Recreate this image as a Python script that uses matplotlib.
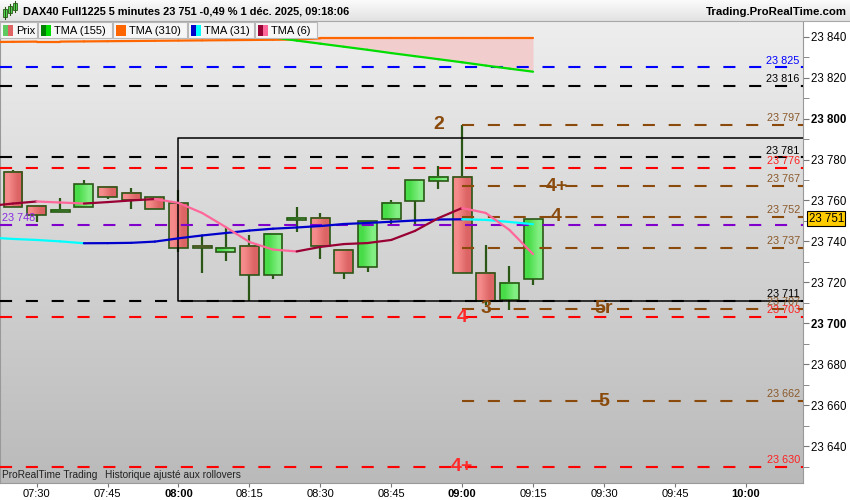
import numpy as np
import matplotlib.pyplot as plt
import matplotlib.transforms as mtransforms
from matplotlib.patches import Rectangle
from matplotlib.colors import LinearSegmentedColormap
from matplotlib.collections import LineCollection

plt.rcParams['font.family'] = ['Liberation Sans', 'DejaVu Sans']

W, H = 850, 500

# bougies 5 minutes
times = ["07:25", "07:30", "07:35", "07:40", "07:45", "07:50", "07:55", "08:00",
         "08:05", "08:10", "08:15", "08:20", "08:25", "08:30", "08:35", "08:40",
         "08:45", "08:50", "08:55", "09:00", "09:05", "09:10", "09:15"]
opens = [23773.7, 23757.4, 23754.3, 23756.9, 23766.7, 23763.8, 23761.8, 23758.9,
         23737.9, 23735.0, 23737.9, 23723.6, 23750.4, 23751.6, 23736.0, 23727.7,
         23750.8, 23759.7, 23769.6, 23771.6, 23724.7, 23711.4, 23721.8]
highs = [23775.0, 23757.4, 23761.0, 23769.8, 23766.7, 23765.9, 23761.8, 23765.0,
         23742.6, 23746.7, 23742.9, 23743.7, 23757.0, 23753.7, 23736.0, 23750.1,
         23760.0, 23769.8, 23777.0, 23797.0, 23738.0, 23727.8, 23751.0]
lows = [23756.6, 23749.4, 23754.3, 23756.9, 23760.5, 23755.6, 23756.0, 23735.0,
        23724.7, 23730.4, 23710.9, 23721.6, 23744.5, 23731.6, 23721.8, 23725.0,
        23747.6, 23748.5, 23765.5, 23724.7, 23709.0, 23706.5, 23718.8]
closes = [23756.6, 23753.0, 23755.5, 23767.8, 23761.8, 23760.1, 23756.0, 23737.0,
          23736.7, 23737.0, 23723.6, 23743.7, 23751.6, 23737.9, 23724.7, 23750.1,
          23758.9, 23769.8, 23771.6, 23724.7, 23710.9, 23719.9, 23751.0]

# moyennes mobiles triangulaires (à partir de 07:20)
ma_start = "07:20"
tma6 = [23757.3, 23758.5, 23759.5, 23759.0, 23758.5, 23759.2, 23760.0, 23760.7,
        23758.8, 23753.9, 23747.0, 23739.7, 23736.0, 23735.1, 23737.3, 23738.7,
        23739.2, 23740.7, 23745.1, 23751.4, 23756.3, 23753.9, 23745.6, 23733.8]
tma31 = [23741.9, 23741.2, 23740.7, 23740.0, 23739.1, 23739.15, 23739.3, 23739.9,
         23741.5, 23742.9, 23744.1, 23745.3, 23746.2, 23746.8, 23747.5, 23748.5,
         23749.0, 23749.6, 23750.2, 23750.7, 23750.8, 23750.5, 23749.5, 23748.4]
tma310 = [23837.4, 23837.5, 23837.6, 23837.6, 23837.7, 23837.8, 23837.9, 23838.0,
          23838.1, 23838.2, 23838.3, 23838.4, 23838.5, 23838.6, 23839.2, 23839.2,
          23839.2, 23839.2, 23839.2, 23839.2, 23839.2, 23839.2, 23839.2, 23839.2]
tma155_start = "08:05"
tma155 = [23844.2, 23842.7, 23841.2, 23839.7, 23838.1, 23836.6, 23835.1, 23833.6,
          23832.0, 23830.5, 23829.0, 23827.5, 23825.9, 23824.4, 23822.9]

# niveaux horizontaux
full_levels = [23825, 23816, 23781, 23776, 23748, 23711, 23703, 23630]
full_colors = ['#0000ff', 'black', 'black', '#ff0000', '#8000cc', 'black', '#ff0000', '#ff0000']
brown_levels = [23797, 23767, 23752, 23737, 23707, 23662]
brown_start = "09:00"
box_start, box_top, box_bottom = "08:00", 23790.5, 23711
last_price = 23751

tags = [("2", "08:55", 23797, 'brown'), ("4+", "09:20", 23767, 'brown'),
        ("4", "09:20", 23752, 'brown'), ("3", "09:05", 23707, 'brown'),
        ("5r", "09:30", 23707, 'brown'), ("5", "09:30", 23662, 'brown'),
        ("4", "09:00", 23703, 'red'), ("4+", "09:00", 23630, 'red')]

xtick_times = ["07:30", "07:45", "08:00", "08:15", "08:30", "08:45",
               "09:00", "09:15", "09:30", "09:45", "10:00"]
yticks = list(range(23640, 23841, 20))

BROWN = '#8a4a0c'
BROWN_TXT = '#8b5a2b'


def idx(t):
    h, m = map(int, t.split(':'))
    return (h * 60 + m - (7 * 60 + 25)) / 5


def fmt(v):
    return f"{int(v):,}".replace(",", " ")


def px(x, y):
    return x / W, 1 - y / H


fig = plt.figure(figsize=(8.5, 5), dpi=100, facecolor='white')
ax = fig.add_axes([0, 17 / H, 803 / W, 462 / H])
x_left, x_right = -0.55, 33.42
y_low, y_high = 23621.97, 23847.67

# fond dégradé
bg = LinearSegmentedColormap.from_list('bg', ['#bababa', '#eeeeee'])
ax.imshow(np.linspace(0, 1, 256).reshape(-1, 1), extent=[0, 1, 0, 1], transform=ax.transAxes,
          aspect='auto', cmap=bg, origin='lower', zorder=0)

# bougies
red_cm = LinearSegmentedColormap.from_list('r', ['#f58a8a', '#dc6464'])
green_cm = LinearSegmentedColormap.from_list('g', ['#48dc48', '#80ee80'])
edge = '#2b5716'
cw = 0.8
for t, o, hi, lo, c in zip(times, opens, highs, lows, closes):
    x = idx(t)
    ax.plot([x, x], [lo, hi], color=edge, lw=1.6, zorder=2, solid_capstyle='butt')
    b0, b1 = min(o, c), max(o, c)
    if b1 - b0 < 1.0:
        b1 = b0 + 1.0
    cm = green_cm if c >= o else red_cm
    ax.imshow([[0, 1]], extent=[x - cw / 2, x + cw / 2, b0, b1], cmap=cm, aspect='auto',
              interpolation='bilinear', zorder=2.1)
    ax.add_patch(Rectangle((x - cw / 2, b0), cw, b1 - b0, fill=False, ec=edge, lw=1.2, zorder=2.2))

# niveaux
dash = (0, (5.8, 6.6))
for v, col in zip(full_levels, full_colors):
    ax.plot([x_left, x_right], [v, v], color=col, lw=1.5, ls=dash, zorder=3)
bx = idx(brown_start)
for v in brown_levels:
    ax.plot([bx, x_right], [v, v], color=BROWN, lw=1.5, ls=dash, zorder=3)

# rectangle
b0 = idx(box_start)
ax.plot([x_right, b0, b0, x_right], [box_top, box_top, box_bottom, box_bottom],
        color='black', lw=1.1, zorder=3.5)

# moyennes mobiles


def ma_line(start, vals, up_col, down_col, lw=1.6):
    xs = idx(start) + np.arange(len(vals))
    pts = np.column_stack([xs, vals])
    segs = np.stack([pts[:-1], pts[1:]], axis=1)
    cols = [up_col if b >= a else down_col for a, b in zip(vals[:-1], vals[1:])]
    ax.add_collection(LineCollection(segs, colors=cols, lw=lw, zorder=4, capstyle='round'))
    return xs


xs310 = ma_line(ma_start, tma310, '#ff6600', '#ff6600')
xs155 = ma_line(tma155_start, tma155, '#008000', '#00dd00')
off = int(idx(tma155_start) - idx(ma_start))
o310 = np.array(tma310[off:])
g155 = np.array(tma155)
ax.fill_between(xs155, o310, g155, where=o310 > g155, interpolate=True,
                color='#f5c4c4', alpha=0.75, lw=0, zorder=1)
ma_line(ma_start, tma31, '#0000cc', '#00ffff')
ma_line(ma_start, tma6, '#990033', '#ff6699')

# étiquettes de valeurs
bt = mtransforms.blended_transform_factory(ax.transAxes, ax.transData)
label_cols = {'#0000ff': '#0000ff', 'black': 'black', '#ff0000': '#ff2020', '#8000cc': '#8a2be2'}
for v, col in zip(full_levels, full_colors):
    if v == 23748:
        ax.text(0.003, v + 0.8, fmt(v), transform=bt, ha='left', va='bottom',
                fontsize=7.8, color='#8a2be2', zorder=5)
    else:
        ax.text(0.996, v + 0.8, fmt(v), transform=bt, ha='right', va='bottom',
                fontsize=7.8, color=label_cols[col], zorder=5)
for v in brown_levels:
    ax.text(0.996, v + 0.8, fmt(v), transform=bt, ha='right', va='bottom',
            fontsize=7.8, color=BROWN_TXT, zorder=5)

for txt, t, v, kind in tags:
    ax.text(idx(t), v, txt, ha='center', va='center', fontsize=14, fontweight='bold',
            color=BROWN if kind == 'brown' else '#ff2a2a', zorder=5)

ax.text(0.003, 0.017, "ProRealTime Trading", transform=ax.transAxes, fontsize=7.3,
        color='#222222', va='center', zorder=5)
ax.text(0.131, 0.017, "Historique ajusté aux rollovers", transform=ax.transAxes, fontsize=7.3,
        color='#222222', va='center', zorder=5)

# prix courant
ax.text(1.007, last_price, fmt(last_price), transform=bt, ha='left', va='center',
        fontsize=8.3, zorder=6, clip_on=False,
        bbox=dict(boxstyle='square,pad=0.12', fc='#ffcc00', ec='black', lw=0.8))

ax.set_xlim(x_left, x_right)
ax.set_ylim(y_low, y_high)

# axes
ax.yaxis.tick_right()
ax.set_yticks(yticks)
ax.set_yticklabels([fmt(v) for v in yticks])
ax.set_yticks(list(range(23630, 23850, 10)), minor=True)
for lab, v in zip(ax.get_yticklabels(), yticks):
    if v % 100 == 0:
        lab.set_fontweight('bold')
ax.tick_params(axis='y', which='both', length=4, color='#777777', labelsize=8.3, pad=2)
xt = [idx(t) for t in xtick_times]
ax.set_xticks(xt)
ax.set_xticklabels(xtick_times)
for lab, t in zip(ax.get_xticklabels(), xtick_times):
    if t.endswith(":00"):
        lab.set_fontweight('bold')
ax.tick_params(axis='x', length=3, color='#777777', labelsize=8, pad=1.5)
for s in ['top']:
    ax.spines[s].set_visible(False)
for s in ['left', 'right', 'bottom']:
    ax.spines[s].set_color('#999999')
    ax.spines[s].set_linewidth(0.8)

# barre de titre
tax = fig.add_axes([0, 1 - 21 / H, 1, 21 / H])
tax.imshow(np.linspace(0, 1, 64).reshape(-1, 1), aspect='auto',
           cmap=LinearSegmentedColormap.from_list('t', ['#fbfbfb', '#e2e2e2']),
           extent=[0, 1, 0, 1], origin='upper')
tax.set_axis_off()
fig.add_artist(plt.Line2D([0, 1], [1 - 21 / H, 1 - 21 / H], transform=fig.transFigure,
                          color='#a8a8a8', lw=0.8))
fig.text(*px(23, 11), "DAX40 Full1225 5 minutes 23 751 -0,49 % 1 déc. 2025, 09:18:06",
         fontsize=7.9, fontweight='bold', va='center', ha='left')
fig.text(*px(847, 12), "Trading.ProRealTime.com", fontsize=8.2, fontweight='bold',
         va='center', ha='right')
# icône
for cx, y0, y1 in [(5, 9, 17), (10, 6, 13), (15, 3, 10)]:
    fig.add_artist(plt.Line2D([cx / W, cx / W], [1 - (y1 + 2) / H, 1 - (y0 - 2) / H],
                              transform=fig.transFigure, color='#2b5716', lw=0.8))
    fig.add_artist(Rectangle(px(cx - 2, y1), 4 / W, (y1 - y0) / H, transform=fig.transFigure,
                             fc='#55dd55', ec='#2b5716', lw=0.6))

# légende
legend_items = [(0, 37, "Prix", ('#5ec95e', '#e06464')),
                (38, 112, "TMA (155)", ('#008000', '#00dd00')),
                (113, 187, "TMA (310)", ('#ff6600', '#ff6600')),
                (188, 254, "TMA (31)", ('#0000cc', '#00ffff')),
                (255, 317, "TMA (6)", ('#990033', '#ff6699'))]
for x0, x1, name, (c1, c2) in legend_items:
    fig.add_artist(Rectangle(px(x0, 38), (x1 - x0) / W, 16 / H, transform=fig.transFigure,
                             fc='#f6f6f6', ec='#b8b8b8', lw=0.8, zorder=5))
    fig.add_artist(Rectangle(px(x0 + 3, 36), 5 / W, 11 / H, transform=fig.transFigure,
                             fc=c1, ec='none', zorder=6))
    fig.add_artist(Rectangle(px(x0 + 8, 36), 5 / W, 11 / H, transform=fig.transFigure,
                             fc=c2, ec='none', zorder=6))
    fig.text(*px(x0 + 16, 30.5), name, fontsize=8, va='center', ha='left', zorder=7)

fig.savefig('out.png', dpi=100)
